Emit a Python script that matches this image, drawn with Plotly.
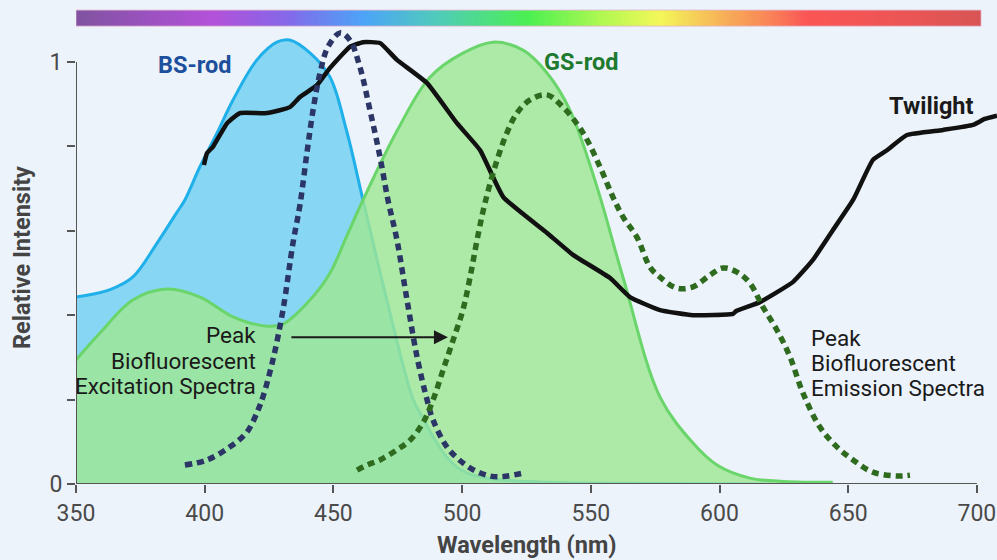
import plotly.graph_objects as go
import numpy as np

# ---------------- data ----------------
bs_wl = [350, 363, 372, 381.5, 389, 392.3, 398, 404.8, 411, 420.3, 428, 433, 441, 448.7, 455, 461.5, 471, 481,
         484.5, 487.5, 491, 494, 498, 502, 512, 530, 560, 620]
bs_val = [0.443, 0.46, 0.49, 0.571, 0.642, 0.673, 0.75, 0.832, 0.91, 1.005, 1.047, 1.052, 1.021, 0.964, 0.84,
          0.673, 0.43, 0.2, 0.16, 0.125, 0.09, 0.064, 0.04, 0.026, 0.012, 0.005, 0.002, 0.0]

gs_wl = [350, 359.3, 372.1, 385.3, 398.2, 411, 424.2, 430.4, 440.9, 448.7, 455, 461.5, 475, 487.5, 500.3, 512,
         523.7, 533, 541.9, 552.4, 562.5, 576.9, 589.7, 599, 611.8, 625, 644]
gs_val = [0.294, 0.358, 0.436, 0.462, 0.443, 0.396, 0.374, 0.379, 0.436, 0.5, 0.585, 0.673, 0.84, 0.964, 1.021,
          1.047, 1.028, 0.974, 0.886, 0.704, 0.49, 0.206, 0.097, 0.045, 0.014, 0.006, 0.004]

tw_wl = [399.7, 400.9, 403.2, 408.7, 413.7, 424.2, 433.1, 437, 443.6, 448.7, 456.4, 461.5, 468.1, 474.7, 486.4,
         498, 507, 516, 533, 543.1, 557.5, 565.2, 576.9, 589.7, 605.2, 606.5, 615.7, 628.6, 636.3, 644.1, 651.9,
         659.6, 665.1, 672.8, 686.8, 698.5, 703, 707.8]
tw_val = [0.756, 0.784, 0.799, 0.855, 0.879, 0.879, 0.893, 0.917, 0.945, 0.986, 1.036, 1.047, 1.045, 1.005, 0.95,
          0.855, 0.791, 0.68, 0.595, 0.543, 0.488, 0.443, 0.412, 0.4, 0.403, 0.41, 0.431, 0.479, 0.531, 0.602, 0.673,
          0.768, 0.791, 0.827, 0.839, 0.851, 0.865, 0.873]

ex_wl = [392.3, 400.9, 409.8, 416.4, 420.7, 422.6, 426.5, 430.4, 434.3, 437, 439.7, 442.1, 444.8, 447.9, 452.6,
         456.4, 460.3, 464.2, 468.1, 471.2, 474.7, 478.6, 482.5, 486.4, 488.7, 494.1, 500.3, 507, 513.6, 523.7]
ex_val = [0.045, 0.057, 0.088, 0.123, 0.175, 0.206, 0.294, 0.412, 0.571, 0.661, 0.784, 0.886, 0.974, 1.036, 1.069,
          1.052, 0.988, 0.886, 0.775, 0.673, 0.578, 0.436, 0.301, 0.199, 0.152, 0.088, 0.05, 0.026, 0.017, 0.026]

em_wl = [459.2, 463.1, 468.1, 474.7, 479.8, 484.8, 488.7, 492.6, 496.5, 500.3, 503.1, 505.8, 508.9, 513.6, 517.4,
         521.3, 526.4, 533, 539.2, 547, 553.6, 558.6, 562.5, 567.9, 573, 576.9, 583.5, 589.7, 596.3, 601.4, 606.8,
         611.8, 616.9, 622.3, 627.4, 632.4, 639, 645.6, 651.9, 659.6, 668.9, 674]
em_val = [0.033, 0.045, 0.057, 0.081, 0.104, 0.145, 0.199, 0.27, 0.341, 0.412, 0.49, 0.578, 0.666, 0.768, 0.832,
          0.879, 0.91, 0.922, 0.893, 0.832, 0.751, 0.68, 0.633, 0.585, 0.514, 0.49, 0.464, 0.467, 0.495, 0.512, 0.502,
          0.476, 0.419, 0.365, 0.301, 0.216, 0.135, 0.088, 0.057, 0.028, 0.019, 0.021]

spec_wl = [350, 403, 432, 461.5, 490, 526, 554.7, 576.9, 600, 620.8, 634, 665, 701.6]
spec_col = ["#7b4a9c", "#b048d8", "#8060e8", "#44a0f8", "#48c8b8", "#44f048", "#b0f848", "#f4f850",
            "#f8b050", "#fa7a50", "#fc4c4c", "#f04c4c", "#d84c4c"]

x_ticks = [350, 400, 450, 500, 550, 600, 650, 700]
y_ticks = [0, 0.2, 0.4, 0.6, 0.8, 1]
y_ticktext = ["0", "", "", "", "", "1"]

ex_label = ["Peak", "Biofluorescent", "Excitation Spectra"]
em_label = ["Peak", "Biofluorescent", "Emission Spectra"]

FONT = "Roboto"
BG = "#edf3fb"
AX = "#555555"

W, H = 997, 560
L, R, T, B = 76, 0, 0, 76
pw, ph = W - L - R, H - T - B

fig = go.Figure()

# spectrum bar as heatmap
edges = np.linspace(spec_wl[0], spec_wl[-1], 301)
centers = (edges[:-1] + edges[1:]) / 2
lo, hi = spec_wl[0], spec_wl[-1]
cscale = [[(w - lo) / (hi - lo), c] for w, c in zip(spec_wl, spec_col)]
fig.add_trace(go.Heatmap(x=edges, y=[1.085, 1.123], z=[list(centers)], colorscale=cscale,
                         zmin=lo, zmax=hi, showscale=False, hoverinfo="skip", opacity=0.95))

fig.add_trace(go.Scatter(x=bs_wl, y=bs_val, mode="lines", line=dict(color="#1fb0ea", width=3, shape="spline", smoothing=1.0),
                         fill="tozeroy", fillcolor="#87d6f3", showlegend=False, hoverinfo="skip"))
fig.add_trace(go.Scatter(x=gs_wl, y=gs_val, mode="lines", line=dict(color="#6ad56a", width=3, shape="spline", smoothing=1.0),
                         fill="tozeroy", fillcolor="rgba(159,230,148,0.82)", showlegend=False, hoverinfo="skip"))
fig.add_trace(go.Scatter(x=tw_wl, y=tw_val, mode="lines", line=dict(color="#111111", width=4.5, shape="spline", smoothing=0.4),
                         showlegend=False, hoverinfo="skip"))
fig.add_trace(go.Scatter(x=ex_wl, y=ex_val, mode="lines",
                         line=dict(color="#2b3566", width=5.5, dash="7px,5px", shape="spline", smoothing=1.0),
                         showlegend=False, hoverinfo="skip"))
fig.add_trace(go.Scatter(x=em_wl, y=em_val, mode="lines",
                         line=dict(color="#2f6b1f", width=5.5, dash="7px,5px", shape="spline", smoothing=1.0),
                         showlegend=False, hoverinfo="skip"))

shapes = [
    dict(type="line", xref="x", yref="y", x0=350, x1=350, y0=0, y1=1, line=dict(color=AX, width=2)),
    dict(type="line", xref="x", yref="y", x0=350, x1=700, y0=0, y1=0, line=dict(color=AX, width=2)),
    dict(type="rect", xref="x", yref="y", x0=spec_wl[0], x1=spec_wl[-1], y0=1.085, y1=1.123,
         line=dict(color="rgba(225,180,205,0.8)", width=1)),
]

annos = [
    dict(x=396.2, y=0.993, text="<b>BS-rod</b>", showarrow=False, xanchor="center", yanchor="middle",
         font=dict(family=FONT, size=23.5, color="#1c4f9c")),
    dict(x=546.2, y=1.0, text="<b>GS-rod</b>", showarrow=False, xanchor="center", yanchor="middle",
         font=dict(family=FONT, size=23.5, color="#1e7a2e")),
    dict(x=699.3, y=0.896, text="<b>Twilight</b>", showarrow=False, xanchor="right", yanchor="middle",
         font=dict(family=FONT, size=23.5, color="#1a1a1a")),
    dict(x=494.5, y=0.348, ax=433.1, ay=0.348, axref="x", ayref="y", xref="x", yref="y", text="",
         showarrow=True, arrowhead=2, arrowsize=1.4, arrowwidth=2, arrowcolor="#1a1a1a"),
    dict(x=(22 - L) / pw, y=(H - B - 258) / ph, xref="paper", yref="paper", text="<b>Relative Intensity</b>",
         showarrow=False, textangle=-90, xanchor="center", yanchor="middle",
         font=dict(family=FONT, size=23.5, color="#444444")),
    dict(x=(527 - L) / pw, y=(H - B - 545) / ph, xref="paper", yref="paper", text="<b>Wavelength (nm)</b>",
         showarrow=False, xanchor="center", yanchor="middle", font=dict(family=FONT, size=23.5, color="#444444")),
]
for txt, yy in zip(ex_label, [0.353, 0.291, 0.232]):
    annos.append(dict(x=420.7, y=yy, text=txt, showarrow=False, xanchor="right", yanchor="middle",
                      font=dict(family=FONT, size=22.5, color="#1a1a1a")))
for txt, yy in zip(em_label, [0.346, 0.287, 0.227]):
    annos.append(dict(x=634.8, y=yy, text=txt, showarrow=False, xanchor="left", yanchor="middle",
                      font=dict(family=FONT, size=22.5, color="#1a1a1a")))

fig.update_layout(
    width=W, height=H, margin=dict(l=L, r=R, t=T, b=B),
    paper_bgcolor=BG, plot_bgcolor=BG,
    font=dict(family=FONT, color="#444444"),
    shapes=shapes, annotations=annos,
    xaxis=dict(range=[350, 350 + pw / 2.574], tickvals=x_ticks, ticks="outside", ticklen=8, tickwidth=2,
               tickcolor=AX, showgrid=False, zeroline=False, showline=False,
               tickfont=dict(family=FONT, size=23, color="#4a4a4a")),
    yaxis=dict(range=[0, ph / 422], tickvals=y_ticks, ticktext=y_ticktext, ticks="outside", ticklen=8, tickwidth=2,
               tickcolor=AX, showgrid=False, zeroline=False, showline=False,
               tickfont=dict(family=FONT, size=23, color="#4a4a4a")),
)

fig.write_html("out.html")
